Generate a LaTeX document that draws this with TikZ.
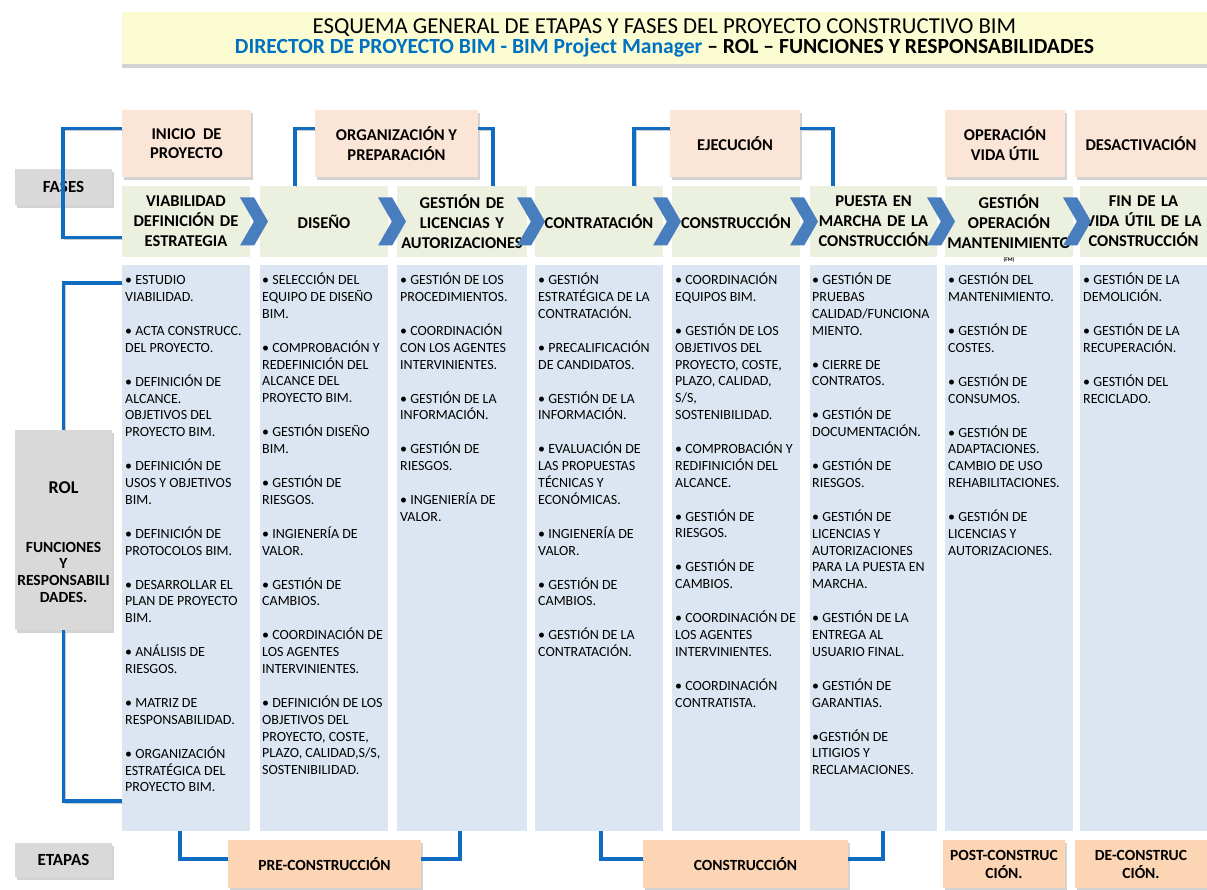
\documentclass[tikz,border=0pt]{standalone}
\usepackage{fontspec}
\setmainfont{Carlito}
\usetikzlibrary{shapes.symbols,shadows}

\definecolor{tituloC}{RGB}{252,252,210}
\definecolor{faseC}{RGB}{251,229,214}
\definecolor{cabC}{RGB}{235,241,222}
\definecolor{colC}{RGB}{220,230,242}
\definecolor{grisC}{RGB}{217,217,217}
\definecolor{etapaC}{RGB}{252,213,181}
\definecolor{lineaC}{RGB}{16,108,192}
\definecolor{flechaC}{RGB}{72,125,190}
\definecolor{azulC}{RGB}{0,112,192}

\tikzset{
    sombra/.style={drop shadow={shadow xshift=2pt, shadow yshift=-3pt, opacity=0.35}},
    titulo/.style={fill=tituloC, inner sep=0pt, align=center, minimum width=1085pt, minimum height=52pt,
        drop shadow={shadow xshift=0pt, shadow yshift=-4pt, opacity=0.35}},
    fasebox/.style={fill=faseC, inner sep=0pt, align=center, minimum height=67pt, sombra,
        font=\fontsize{16.5}{19.5}\selectfont\bfseries},
    cabbox/.style={fill=cabC, inner sep=0pt, align=center, minimum height=71pt,
        font=\fontsize{16.5}{20}\selectfont\bfseries},
    colbox/.style={fill=colC, inner sep=0pt, minimum height=566pt},
    coltexto/.style={anchor=north west, inner sep=0pt, align=left, font=\fontsize{14}{16.8}\selectfont},
    grisbox/.style={fill=grisC, inner sep=0pt, align=center, minimum width=97pt, sombra},
    etapabox/.style={fill=etapaC, inner sep=0pt, align=center, minimum height=48pt, sombra,
        font=\fontsize{15.5}{18}\selectfont\bfseries},
    chevron/.style={shape=signal, signal from=west, signal to=east, signal pointer angle=120,
        fill=flechaC, inner sep=0pt, minimum width=28pt, minimum height=48pt},
    conector/.style={draw=lineaC, line width=3.5pt,
        preaction={draw=black, opacity=0.2, transform canvas={shift={(1.5pt,-1.5pt)}}}}
}

\begin{document}
\begin{tikzpicture}[x=1pt,y=-1pt]
    \useasboundingbox (0,0) rectangle (1207,890);

    % titulo
    \draw(664.5,38) node [titulo, font=\fontsize{22}{19.5}\selectfont](tit){%
        \fontsize{22.8}{19.5}\selectfont ESQUEMA GENERAL DE ETAPAS Y FASES DEL PROYECTO CONSTRUCTIVO BIM\\
        \fontsize{21.6}{19.5}\selectfont\bfseries\textcolor{azulC}{DIRECTOR DE PROYECTO BIM - BIM Project Manager} -- ROL -- FUNCIONES Y RESPONSABILIDADES};

    % fases (arriba)
    \draw(186.5, 143.5) node [fasebox, minimum width=129pt](inicio){INICIO\ \ DE\\PROYECTO};
    \draw(396.5, 143.5) node [fasebox, minimum width=163pt](organiz){ORGANIZACIÓN Y\\PREPARACIÓN};
    \draw(735, 143.5) node [fasebox, minimum width=130pt](ejecucion){EJECUCIÓN};
    \draw(1005, 143.5) node [fasebox, minimum width=120pt](operacion){OPERACIÓN\\VIDA ÚTIL};
    \draw(1141, 143.5) node [fasebox, minimum width=132pt](desact){DESACTIVACIÓN};

    \draw(63.5, 187) node [grisbox, minimum height=36pt, font=\fontsize{17}{20}\selectfont\bfseries](fases){FASES};

    % cabeceras verdes
    \draw(186, 221.5) node [cabbox, text width=128pt](viab){VIABILIDAD\\DEFINICIÓN DE\\ESTRATEGIA};
    \draw(324, 221.5) node [cabbox, text width=128pt](diseno){DISEÑO};
    \draw(462, 221.5) node [cabbox, text width=130pt](licen){GESTIÓN DE\\LICENCIAS Y\\AUTORIZACIONES};
    \draw(599, 221.5) node [cabbox, text width=128pt](contrat){CONTRATACIÓN};
    \draw(736, 221.5) node [cabbox, text width=128pt](constr){CONSTRUCCIÓN};
    \draw(873.5, 221.5) node [cabbox, text width=127pt](puesta){PUESTA EN\\MARCHA DE LA\\CONSTRUCCIÓN};
    \draw(1009, 221.5) node [cabbox, text width=128pt](gestop){GESTIÓN\\OPERACIÓN\\MANTENIMIENTO};
    \draw(1143.5, 221.5) node [cabbox, text width=127pt](finvida){FIN DE LA\\VIDA ÚTIL DE LA\\CONSTRUCCIÓN};
    \draw(1009, 259.5) node [inner sep=0pt, font=\fontsize{5.5}{6}\selectfont\bfseries](fm){(FM)};

    \draw(254, 221.5) node [chevron](ch1){};
    \draw(392, 221.5) node [chevron](ch2){};
    \draw(531, 221.5) node [chevron](ch3){};
    \draw(667, 221.5) node [chevron](ch4){};
    \draw(804, 221.5) node [chevron](ch5){};
    \draw(941, 221.5) node [chevron](ch6){};
    \draw(1077, 221.5) node [chevron](ch7){};

    % columnas
    \draw(186, 548) node [colbox, minimum width=128pt](col1){};
    \draw(324, 548) node [colbox, minimum width=128pt](col2){};
    \draw(462, 548) node [colbox, minimum width=130pt](col3){};
    \draw(599, 548) node [colbox, minimum width=128pt](col4){};
    \draw(736, 548) node [colbox, minimum width=128pt](col5){};
    \draw(873.5, 548) node [colbox, minimum width=127pt](col6){};
    \draw(1009, 548) node [colbox, minimum width=128pt](col7){};
    \draw(1143.5, 548) node [colbox, minimum width=127pt](col8){};

    \draw(125, 271.5) node [coltexto](txt1){\rule{0pt}{13pt}• ESTUDIO\\VIABILIDAD.\\[17.2pt]
        • ACTA CONSTRUCC.\\DEL PROYECTO.\\[17.2pt]
        • DEFINICIÓN DE\\ALCANCE.\\OBJETIVOS DEL\\PROYECTO BIM.\\[17.2pt]
        • DEFINICIÓN DE\\USOS Y OBJETIVOS\\BIM.\\[17.2pt]
        • DEFINICIÓN DE\\PROTOCOLOS BIM.\\[17.2pt]
        • DESARROLLAR EL\\PLAN DE PROYECTO\\BIM.\\[17.2pt]
        • ANÁLISIS DE\\RIESGOS.\\[17.2pt]
        • MATRIZ DE\\RESPONSABILIDAD.\\[17.2pt]
        • ORGANIZACIÓN\\ESTRATÉGICA DEL\\PROYECTO BIM.};
    \draw(262, 271.5) node [coltexto](txt2){\rule{0pt}{13pt}• SELECCIÓN DEL\\EQUIPO DE DISEÑO\\BIM.\\[17.2pt]
        • COMPROBACIÓN Y\\REDEFINICIÓN DEL\\ALCANCE DEL\\PROYECTO BIM.\\[17.2pt]
        • GESTIÓN DISEÑO\\BIM.\\[17.2pt]
        • GESTIÓN DE\\RIESGOS.\\[17.2pt]
        • INGIENERÍA DE\\VALOR.\\[17.2pt]
        • GESTIÓN DE\\CAMBIOS.\\[17.2pt]
        • COORDINACIÓN DE\\LOS AGENTES\\INTERVINIENTES.\\[17.2pt]
        • DEFINICIÓN DE LOS\\OBJETIVOS DEL\\PROYECTO, COSTE,\\PLAZO, CALIDAD,S/S,\\SOSTENIBILIDAD.};
    \draw(400, 271.5) node [coltexto](txt3){\rule{0pt}{13pt}• GESTIÓN DE LOS\\PROCEDIMIENTOS.\\[17.2pt]
        • COORDINACIÓN\\CON LOS AGENTES\\INTERVINIENTES.\\[17.2pt]
        • GESTIÓN DE LA\\INFORMACIÓN.\\[17.2pt]
        • GESTIÓN DE\\RIESGOS.\\[17.2pt]
        • INGENIERÍA DE\\VALOR.};
    \draw(538, 271.5) node [coltexto](txt4){\rule{0pt}{13pt}• GESTIÓN\\ESTRATÉGICA DE LA\\CONTRATACIÓN.\\[17.2pt]
        • PRECALIFICACIÓN\\DE CANDIDATOS.\\[17.2pt]
        • GESTIÓN DE LA\\INFORMACIÓN.\\[17.2pt]
        • EVALUACIÓN DE\\LAS PROPUESTAS\\TÉCNICAS Y\\ECONÓMICAS.\\[17.2pt]
        • INGIENERÍA DE\\VALOR.\\[17.2pt]
        • GESTIÓN DE\\CAMBIOS.\\[17.2pt]
        • GESTIÓN DE LA\\CONTRATACIÓN.};
    \draw(675, 271.5) node [coltexto](txt5){\rule{0pt}{13pt}• COORDINACIÓN\\EQUIPOS BIM.\\[17.2pt]
        • GESTIÓN DE LOS\\OBJETIVOS DEL\\PROYECTO, COSTE,\\PLAZO, CALIDAD,\\S/S,\\SOSTENIBILIDAD.\\[17.2pt]
        • COMPROBACIÓN Y\\REDIFINICIÓN DEL\\ALCANCE.\\[17.2pt]
        • GESTIÓN DE\\RIESGOS.\\[17.2pt]
        • GESTIÓN DE\\CAMBIOS.\\[17.2pt]
        • COORDINACIÓN DE\\LOS AGENTES\\INTERVINIENTES.\\[17.2pt]
        • COORDINACIÓN\\CONTRATISTA.};
    \draw(812, 271.5) node [coltexto](txt6){\rule{0pt}{13pt}• GESTIÓN DE\\PRUEBAS\\CALIDAD/FUNCIONA\\MIENTO.\\[17.2pt]
        • CIERRE DE\\CONTRATOS.\\[17.2pt]
        • GESTIÓN DE\\DOCUMENTACIÓN.\\[17.2pt]
        • GESTIÓN DE\\RIESGOS.\\[17.2pt]
        • GESTIÓN DE\\LICENCIAS Y\\AUTORIZACIONES\\PARA LA PUESTA EN\\MARCHA.\\[17.2pt]
        • GESTIÓN DE LA\\ENTREGA AL\\USUARIO FINAL.\\[17.2pt]
        • GESTIÓN DE\\GARANTIAS.\\[17.2pt]
        •GESTIÓN DE\\LITIGIOS Y\\RECLAMACIONES.};
    \draw(948, 271.5) node [coltexto](txt7){\rule{0pt}{13pt}• GESTIÓN DEL\\MANTENIMIENTO.\\[17.2pt]
        • GESTIÓN DE\\COSTES.\\[17.2pt]
        • GESTIÓN DE\\CONSUMOS.\\[17.2pt]
        • GESTIÓN DE\\ADAPTACIONES.\\CAMBIO DE USO\\REHABILITACIONES.\\[17.2pt]
        • GESTIÓN DE\\LICENCIAS Y\\AUTORIZACIONES.};
    \draw(1083, 271.5) node [coltexto](txt8){\rule{0pt}{13pt}• GESTIÓN DE LA\\DEMOLICIÓN.\\[17.2pt]
        • GESTIÓN DE LA\\RECUPERACIÓN.\\[17.2pt]
        • GESTIÓN DEL\\RECICLADO.};

    % rol
    \draw(63.5, 530) node [grisbox, minimum height=200pt, font=\fontsize{15.5}{16.7}\selectfont\bfseries](rol){%
        \fontsize{18}{20}\selectfont\rule{0pt}{36pt}ROL\\[42pt]
        FUNCIONES\\Y\\RESPONSABILI\\DADES.};

    % etapas
    \draw(63.5, 860) node [grisbox, minimum height=34pt, font=\fontsize{17}{20}\selectfont\bfseries](etapas){ETAPAS};
    \draw(324.5, 864) node [etapabox, minimum width=193pt](epre){PRE-CONSTRUCCIÓN};
    \draw(745.5, 864) node [etapabox, minimum width=205pt](econs){CONSTRUCCIÓN};
    \draw(1004, 864) node [etapabox, minimum width=122pt](epost){POST-CONSTRUC\\CIÓN.};
    \draw(1141, 864) node [etapabox, minimum width=132pt](edecons){DE-CONSTRUC\\CIÓN.};

    % conectores
    \draw[conector] ([yshift=15pt]inicio.west) -- ++(-59,0) |- ([yshift=-16pt]viab.west);
    \draw[conector] ([xshift=35pt]diseno.north west) |- ([yshift=15pt]organiz.west);
    \draw[conector] ([yshift=15pt]organiz.east) -| ([xshift=96pt]licen.north west);
    \draw[conector] ([xshift=-29pt]contrat.north east) |- ([yshift=15pt]ejecucion.west);
    \draw[conector] ([yshift=15pt]ejecucion.east) -| ([xshift=23pt]puesta.north west);
    \draw[conector] ([yshift=-18pt]col1.north west) -| (rol.north);
    \draw[conector] (rol.south) |- ([yshift=30pt]col1.south west);
    \draw[conector] ([xshift=58pt]col1.south west) |- ([yshift=5pt]epre.west);
    \draw[conector] ([yshift=5pt]epre.east) -| ([xshift=63pt]col3.south west);
    \draw[conector] ([xshift=66pt]col4.south west) |- ([yshift=5pt]econs.west);
    \draw[conector] ([yshift=5pt]econs.east) -| ([xshift=73pt]col6.south west);
\end{tikzpicture}
\end{document}
